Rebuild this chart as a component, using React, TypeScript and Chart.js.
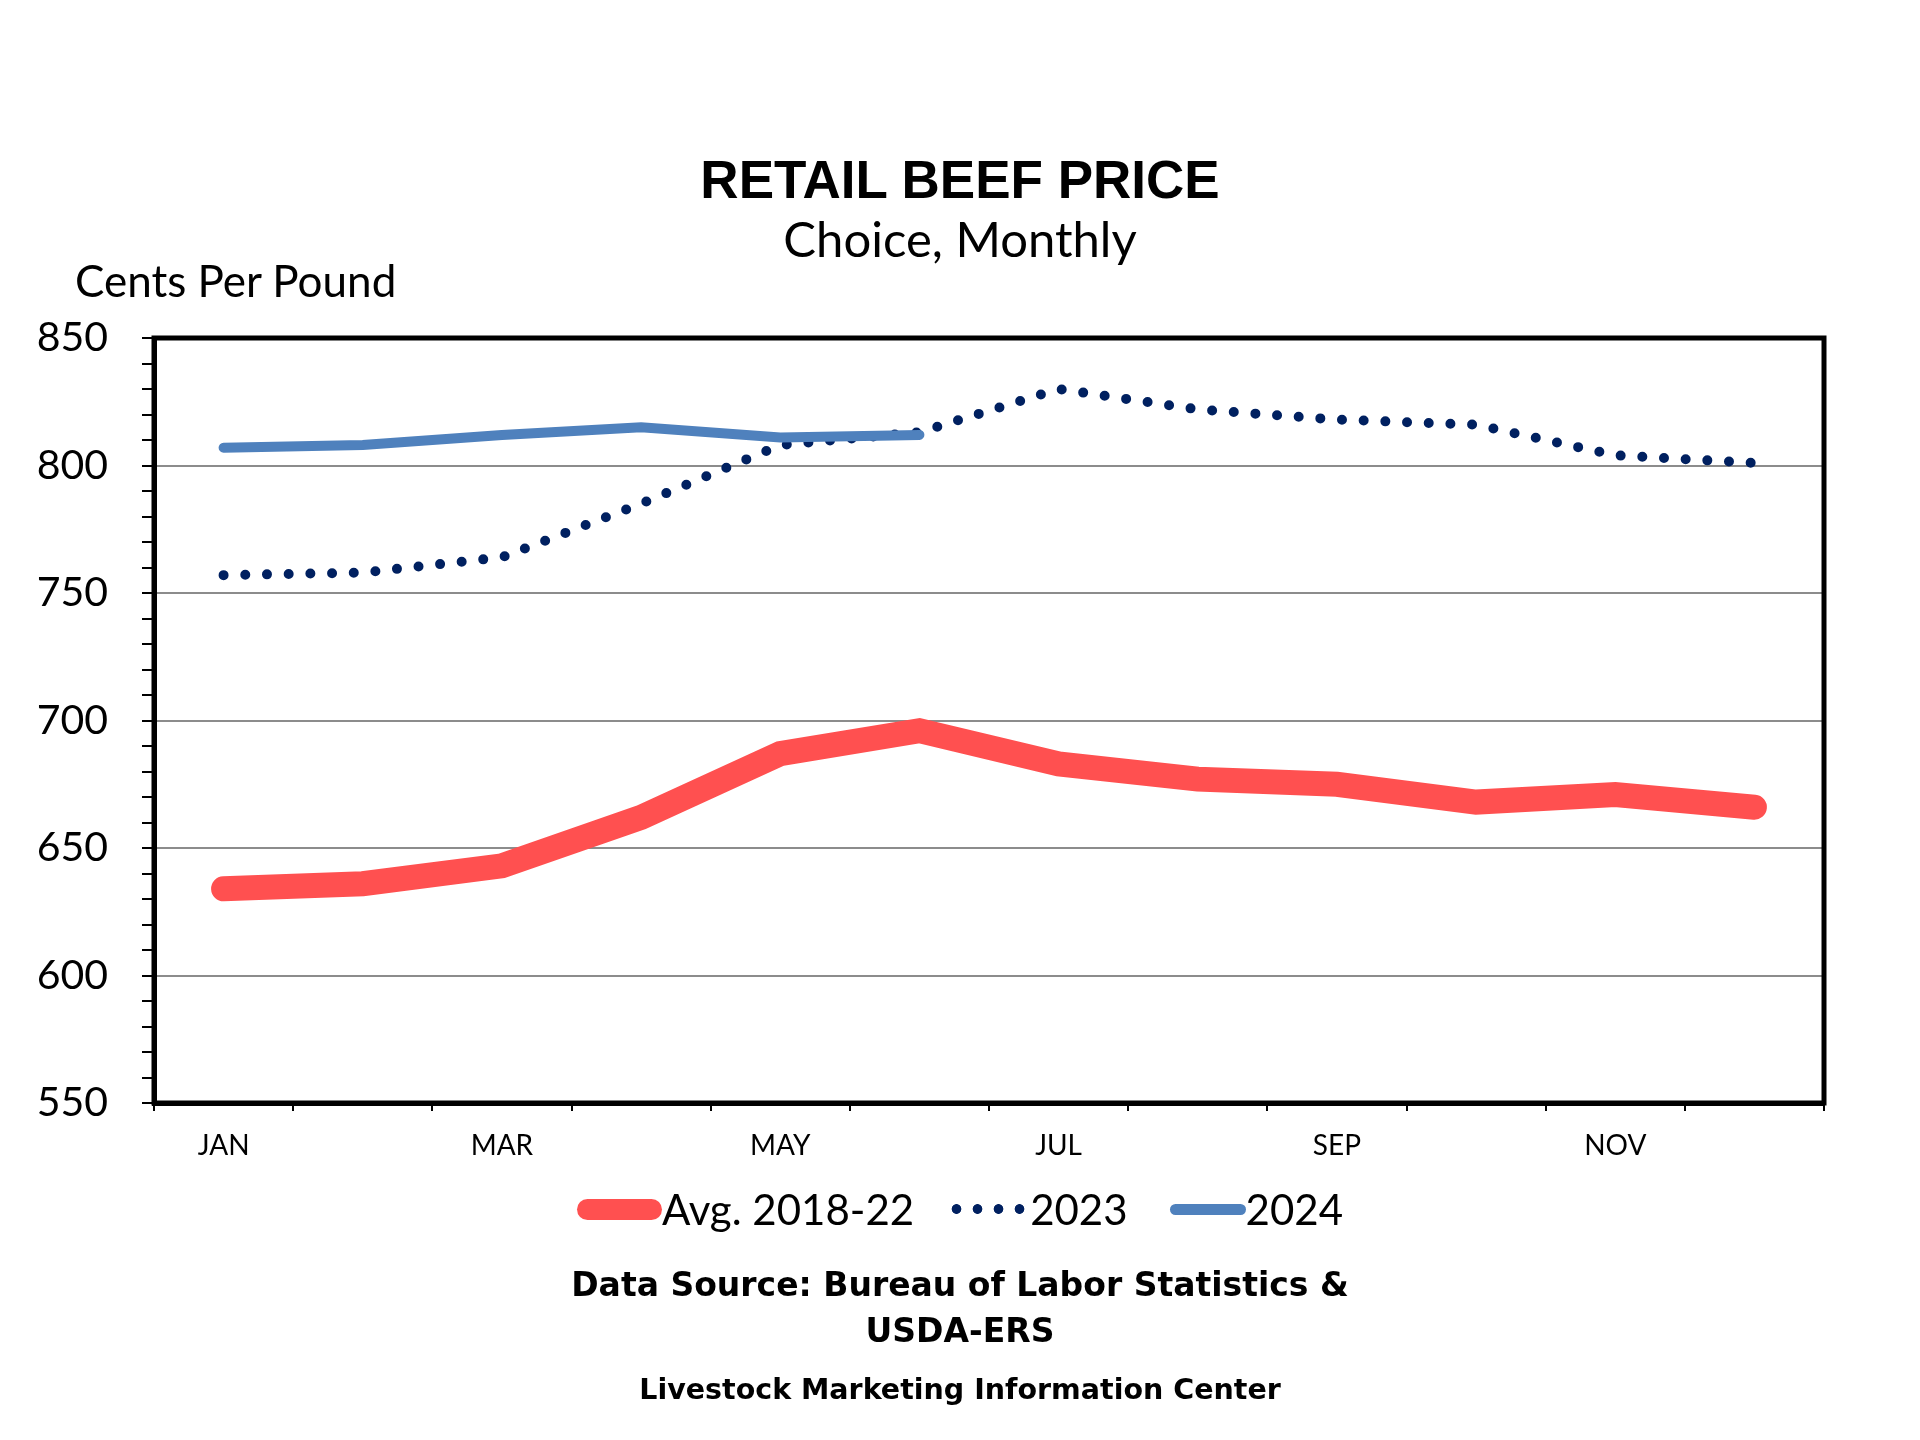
import { useEffect, useRef } from "react";
import { Chart, registerables } from "chart.js";

Chart.register(...registerables);

const months = ["JAN", "FEB", "MAR", "APR", "MAY", "JUN", "JUL", "AUG", "SEP", "OCT", "NOV", "DEC"];
const avg2018to22 = [634, 636, 643, 662, 687, 696, 683, 677, 675, 668, 671, 666];
const values2023 = [757, 758, 764, 785, 808, 813, 830, 822, 818, 816, 804, 801];
const values2024 = [807, 808, 812, 815, 811, 812, null, null, null, null, null, null];
const yMin = 550;
const yMax = 850;
const yMinorStep = 10;
const yMajorStep = 50;

const RED = "#FF5050";
const NAVY = "#002060";
const BLUE = "#4F81BD";

// thick black box round the plot area
const framePlugin = {
  id: "frame",
  afterDatasetsDraw(chart: Chart) {
    const { ctx, chartArea } = chart;
    ctx.save();
    ctx.strokeStyle = "#000";
    ctx.lineWidth = 5;
    ctx.strokeRect(chartArea.left, chartArea.top, chartArea.right - chartArea.left, chartArea.bottom - chartArea.top);
    ctx.restore();
  },
};

const App = () => {
  const canvasRef = useRef<HTMLCanvasElement>(null);

  useEffect(() => {
    if (!canvasRef.current) return;
    const ctx = canvasRef.current.getContext("2d");
    if (!ctx) return;

    const chart = new Chart(ctx, {
      type: "line",
      data: {
        labels: months,
        datasets: [
          {
            label: "Avg. 2018-22",
            data: avg2018to22,
            borderColor: RED,
            borderWidth: 25,
            borderCapStyle: "round",
            pointRadius: 0,
            order: 3,
          },
          {
            label: "2023",
            data: values2023,
            borderColor: NAVY,
            borderWidth: 10,
            borderCapStyle: "round",
            borderDash: [0, 21.7],
            pointRadius: 0,
            order: 2,
          },
          {
            label: "2024",
            data: values2024,
            borderColor: BLUE,
            borderWidth: 10,
            borderCapStyle: "round",
            pointRadius: 0,
            spanGaps: false,
            order: 1,
          },
        ],
      },
      options: {
        responsive: false,
        animation: false,
        layout: { padding: { top: 338, right: 96, left: 0, bottom: 257 } },
        plugins: {
          legend: { display: false },
          tooltip: { enabled: false },
          title: { display: false },
        },
        scales: {
          x: {
            type: "category",
            offset: true,
            afterFit: (scale: any) => {
              scale.height = 80;
            },
            border: { display: true, color: "#000", width: 5 },
            grid: {
              offset: true,
              drawOnChartArea: false,
              drawTicks: true,
              tickLength: 8,
              color: "#000",
              lineWidth: 2,
            },
            ticks: {
              autoSkip: false,
              maxRotation: 0,
              padding: 18,
              color: "#000",
              font: { family: "Lato", size: 28 },
              callback: (_v: any, i: number) => (i % 2 === 0 ? months[i] : ""),
            },
          },
          y: {
            min: yMin,
            max: yMax,
            afterFit: (scale: any) => {
              scale.width = 154;
            },
            border: { display: true, color: "#000", width: 5 },
            grid: {
              drawTicks: true,
              tickLength: 12,
              lineWidth: 2,
              tickWidth: 2,
              tickColor: "#000",
              color: (c: any) => {
                const v = c.tick?.value;
                if (v === undefined) return "transparent";
                return v % yMajorStep === 0 && v !== yMin && v !== yMax ? "#8C8C8C" : "transparent";
              },
            },
            ticks: {
              stepSize: yMinorStep,
              autoSkip: false,
              padding: 34,
              color: "#000",
              font: { family: "Lato", size: 41 },
              callback: (v: any) => (Number(v) % yMajorStep === 0 ? String(v) : ""),
            },
          },
        },
      },
      plugins: [framePlugin],
    });

    return () => chart.destroy();
  }, []);

  const lato = "Lato, 'Open Sans', sans-serif";
  const footerFont = "'DejaVu Sans', Verdana, sans-serif";

  return (
    <div style={{ position: "absolute", left: 0, top: 0, width: 1920, height: 1440, background: "#fff", overflow: "hidden" }}>
      <canvas ref={canvasRef} width={1920} height={1440} style={{ position: "absolute", left: 0, top: 0, width: 1920, height: 1440 }} />

      <div style={{ position: "absolute", left: 0, top: 153, width: 1920, textAlign: "center", fontFamily: "'Liberation Sans', Arial, sans-serif", fontWeight: 700, fontSize: 53, lineHeight: 1 }}>
        RETAIL BEEF PRICE
      </div>
      <div style={{ position: "absolute", left: 0, top: 214, width: 1920, textAlign: "center", fontFamily: lato, fontSize: 49, lineHeight: 1 }}>
        Choice, Monthly
      </div>
      <div style={{ position: "absolute", left: 75, top: 258, fontFamily: lato, fontSize: 44, lineHeight: 1, whiteSpace: "nowrap" }}>
        Cents Per Pound
      </div>

      <div style={{ position: "absolute", left: 0, top: 1188, width: 1920, display: "flex", justifyContent: "center", alignItems: "center", fontFamily: lato, fontSize: 42, lineHeight: 1 }}>
        <span style={{ display: "inline-block", width: 85, height: 21, borderRadius: 10.5, background: RED }} />
        <span>Avg. 2018-22</span>
        <span
          style={{
            display: "inline-block",
            width: 84,
            height: 12,
            marginLeft: 32,
            backgroundImage: `radial-gradient(circle, ${NAVY} 4.5px, transparent 5.2px)`,
            backgroundSize: "21px 12px",
            backgroundRepeat: "repeat-x",
          }}
        />
        <span>2023</span>
        <span style={{ display: "inline-block", width: 76, height: 11, marginLeft: 42, borderRadius: 5.5, background: BLUE }} />
        <span>2024</span>
      </div>

      <div style={{ position: "absolute", left: 0, top: 1262, width: 1920, textAlign: "center", fontFamily: footerFont, fontWeight: 700, fontSize: 33, lineHeight: "46px" }}>
        Data Source: Bureau of Labor Statistics &amp;
        <br />
        USDA-ERS
      </div>
      <div style={{ position: "absolute", left: 0, top: 1376, width: 1920, textAlign: "center", fontFamily: footerFont, fontWeight: 700, fontSize: 28.5, lineHeight: 1 }}>
        Livestock Marketing Information Center
      </div>
    </div>
  );
};

export default App;
